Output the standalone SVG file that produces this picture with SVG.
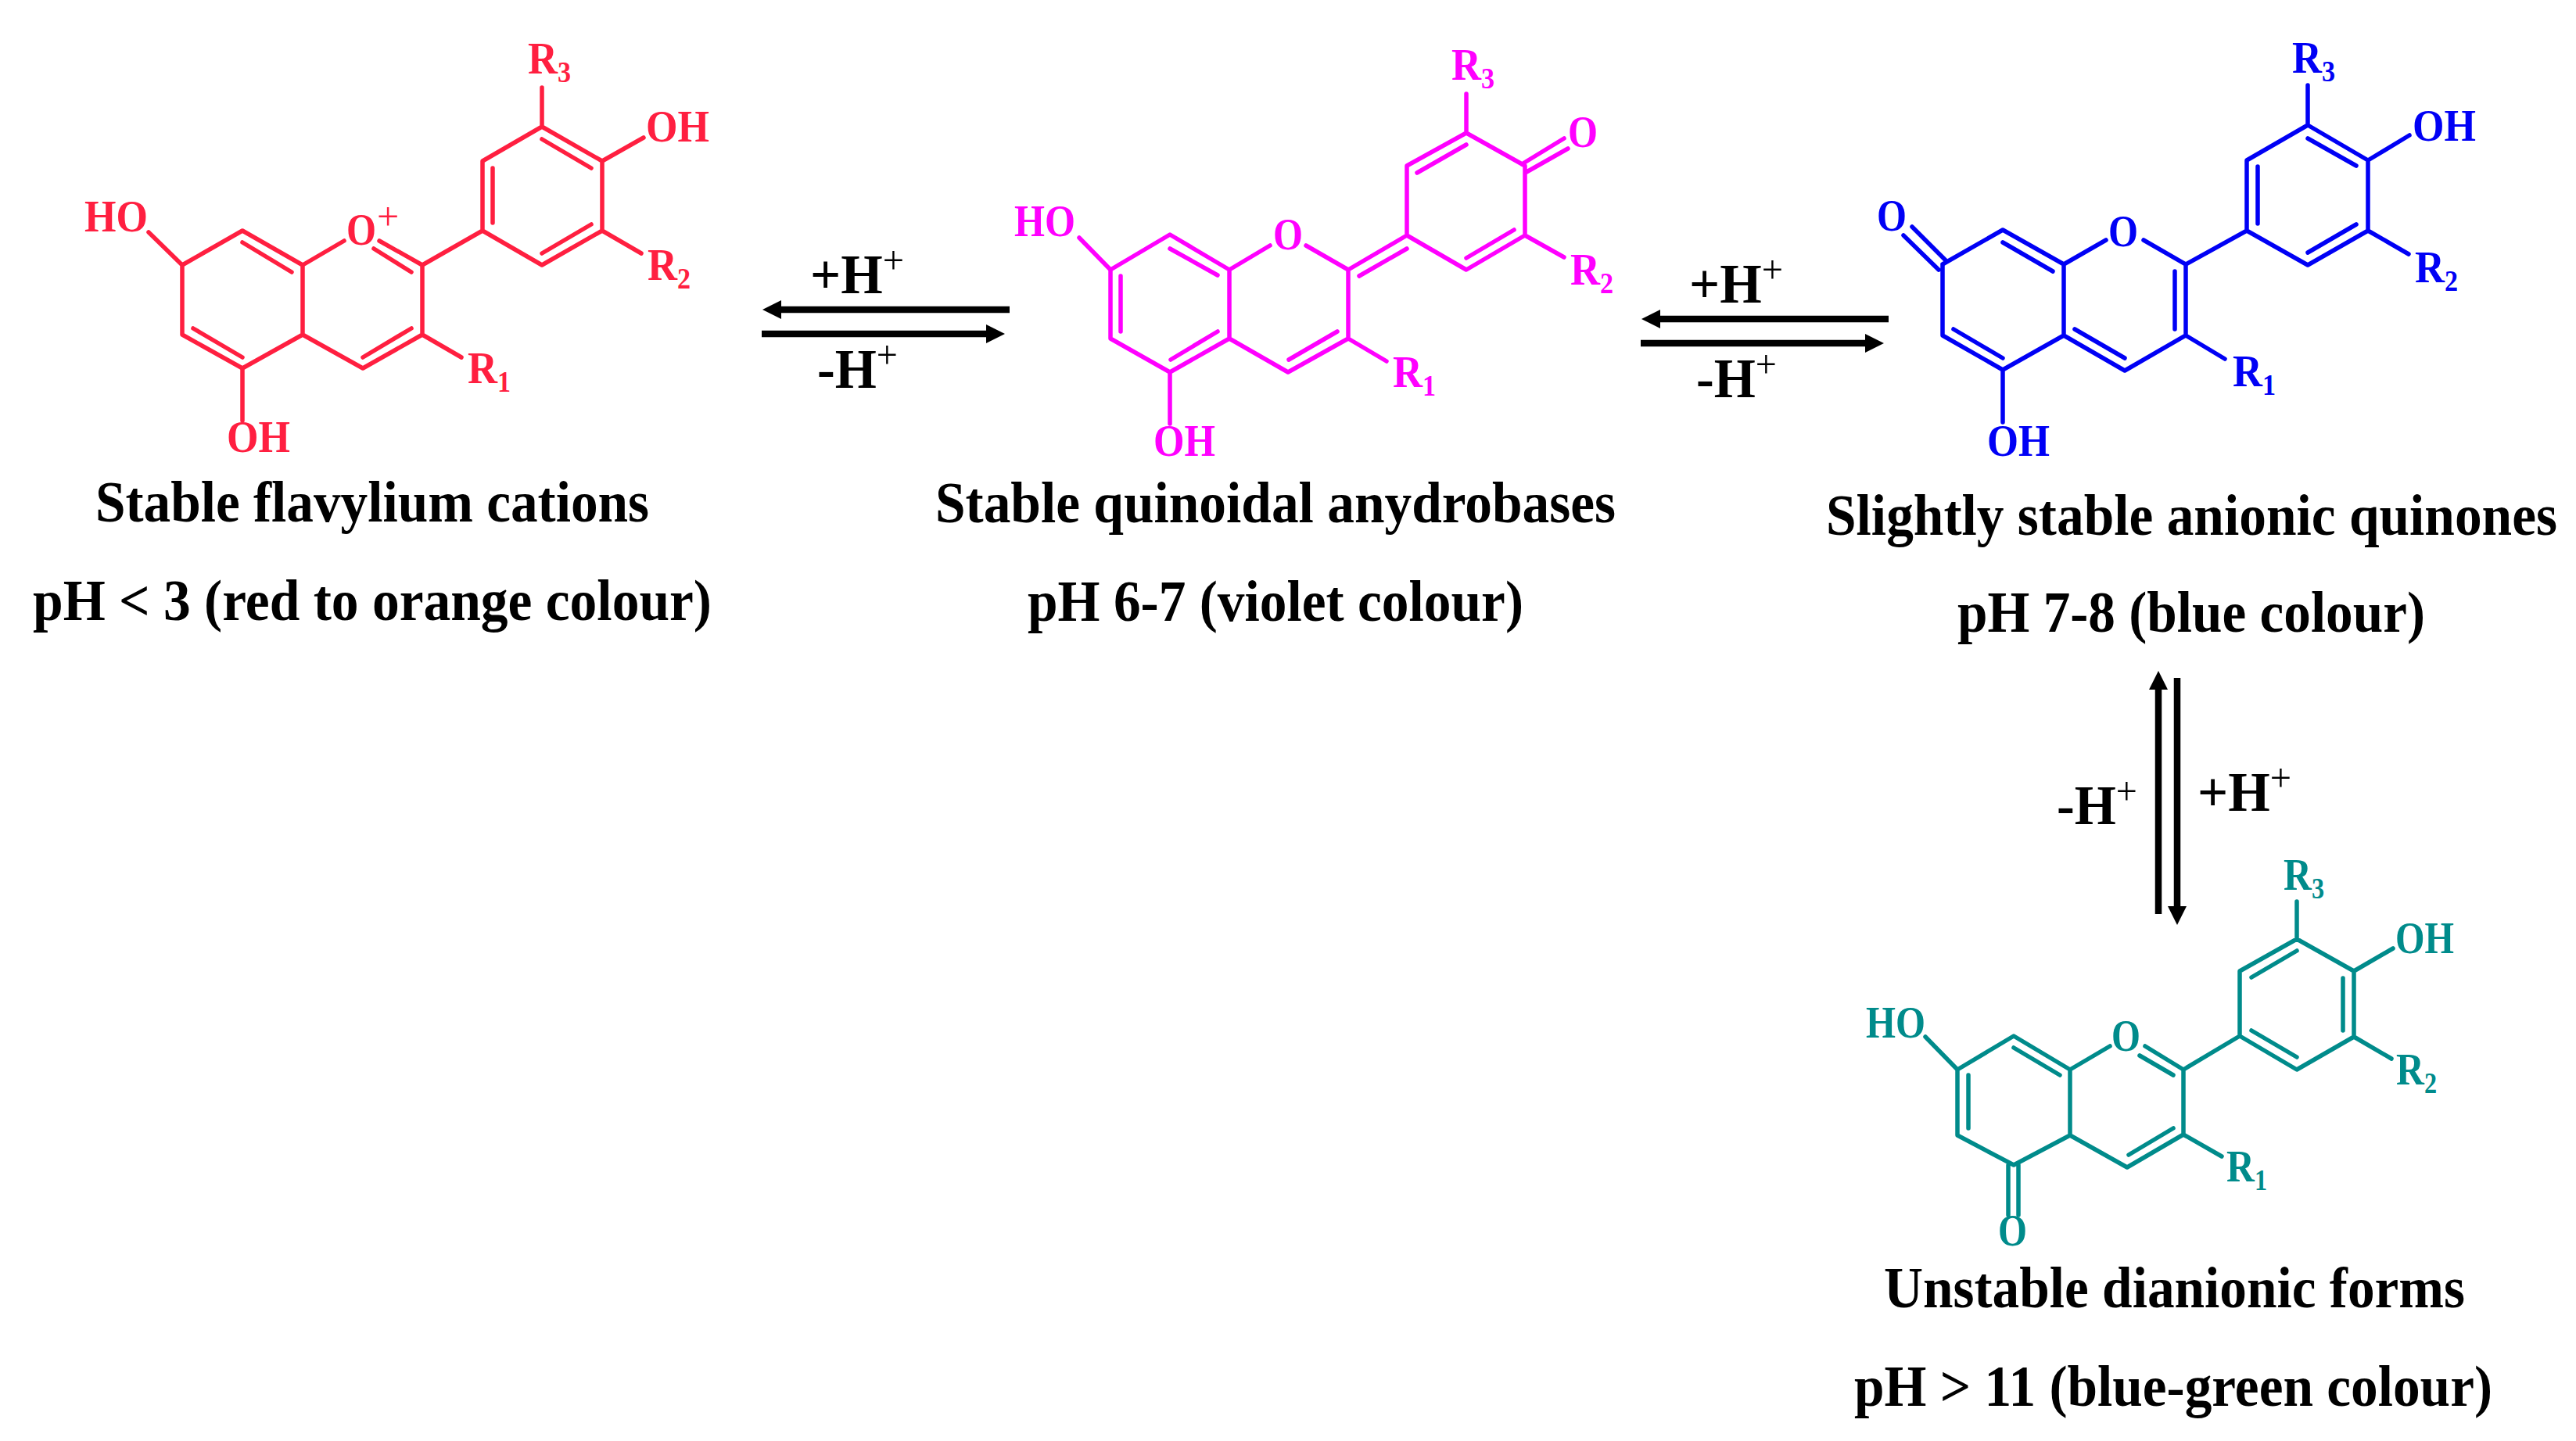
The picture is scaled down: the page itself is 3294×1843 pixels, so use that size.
<svg xmlns="http://www.w3.org/2000/svg" width="3294" height="1843" viewBox="0 0 3294 1843">
<style>
text{font-family:"Liberation Serif","Times New Roman",serif;font-weight:700}
.l{font-size:57px}
.s{font-size:37px}
.c{font-size:75px}
.h{font-size:71px;fill:#000}
.p{font-size:50px;font-weight:400}
.b{fill:none;stroke-width:5.5;stroke-linecap:round;stroke-linejoin:round}
.red .b{stroke:#ff1f40}.red text{fill:#ff1f40}
.mag .b{stroke:#ff00ff}.mag text{fill:#ff00ff}
.blu .b{stroke:#0000f5}.blu text{fill:#0000f5}
.tea .b{stroke:#008b8b}.tea text{fill:#008b8b}
g text.c{fill:#000}
.a{stroke:#000;stroke-width:8.5;fill:none}
</style>
<defs>
<marker id="head" viewBox="0 0 24 24" refX="0" refY="12" markerWidth="24" markerHeight="24" markerUnits="userSpaceOnUse" orient="auto"><path d="M0 0L24 12L0 24z" fill="#000"/></marker>
</defs>
<g id="flavylium-cation" class="red">
<path class="b" d="M190 297L233 339L310 295L387 339L387 428L310 471L233 428L233 339M387 339L440 308M485 308L540 339L540 428L464 471L387 428M540 339L617 295L617 206L693 162L770 206L770 295L693 339L617 295M693 162L693 112M770 206L823 176M770 295L820 324M540 428L590 457M310 471L310 538M310 310L373 348M478 318L526 348M693 178L756 215M630 215L630 285M693 324L756 287M464 457L526 420M247 420L310 457"/>
<text class="l" x="108" y="296" textLength="81" lengthAdjust="spacingAndGlyphs">HO</text>
<text class="l" x="443" y="313" textLength="38" lengthAdjust="spacingAndGlyphs">O</text>
<text class="p" x="482" y="294">+</text>
<text class="l" x="826" y="181" textLength="81" lengthAdjust="spacingAndGlyphs">OH</text>
<text class="l" x="290" y="578" textLength="81" lengthAdjust="spacingAndGlyphs">OH</text>
<text class="l" x="598" y="490" textLength="55" lengthAdjust="spacingAndGlyphs">R<tspan class="s" dy="11">1</tspan></text>
<text class="l" x="828" y="358" textLength="55" lengthAdjust="spacingAndGlyphs">R<tspan class="s" dy="11">2</tspan></text>
<text class="l" x="675" y="94" textLength="55" lengthAdjust="spacingAndGlyphs">R<tspan class="s" dy="11">3</tspan></text>
<text class="c" x="122" y="667" textLength="708" lengthAdjust="spacingAndGlyphs">Stable flavylium cations</text>
<text class="c" x="42" y="793" textLength="868" lengthAdjust="spacingAndGlyphs">pH &lt; 3 (red to orange colour)</text>
</g>
<g id="quinoidal-anhydrobase" class="mag">
<path class="b" d="M1380 304L1420 345L1496 300L1572 345L1572 433L1496 476L1420 433L1420 345M1572 345L1624 314M1670 314L1724 345L1724 433L1647 476L1572 433M1724 345L1799 301L1799 212L1875 170L1950 212L1950 301L1875 345L1799 301M1875 170L1875 120M1950 301L2000 329M1724 433L1773 462M1496 476L1496 542M1496 318L1557 352M1433 353L1433 424M1557 424L1497 460M1710 424L1648 460M1799 318L1738 353M1875 185L1812 221M1875 330L1936 294M1946 210L2000 177M1952 220L2005 190"/>
<text class="l" x="1297" y="302" textLength="78" lengthAdjust="spacingAndGlyphs">HO</text>
<text class="l" x="1628" y="319" textLength="38" lengthAdjust="spacingAndGlyphs">O</text>
<text class="l" x="2005" y="188" textLength="38" lengthAdjust="spacingAndGlyphs">O</text>
<text class="l" x="1475" y="583" textLength="79" lengthAdjust="spacingAndGlyphs">OH</text>
<text class="l" x="1781" y="495" textLength="55" lengthAdjust="spacingAndGlyphs">R<tspan class="s" dy="11">1</tspan></text>
<text class="l" x="2008" y="364" textLength="55" lengthAdjust="spacingAndGlyphs">R<tspan class="s" dy="11">2</tspan></text>
<text class="l" x="1856" y="102" textLength="55" lengthAdjust="spacingAndGlyphs">R<tspan class="s" dy="11">3</tspan></text>
<text class="c" x="1196" y="668" textLength="870" lengthAdjust="spacingAndGlyphs">Stable quinoidal anydrobases</text>
<text class="c" x="1314" y="794" textLength="634" lengthAdjust="spacingAndGlyphs">pH 6-7 (violet colour)</text>
</g>
<g id="anionic-quinone" class="blu">
<path class="b" d="M2484 338L2561 294L2639 338L2639 429L2561 473L2484 429L2484 338M2639 338L2693 307M2741 307L2795 338L2795 429L2717 474L2639 429M2795 338L2873 295L2873 205L2951 160L3028 205L3028 295L2951 339L2873 295M2951 160L2951 109M3028 205L3081 173M3028 295L3080 325M2795 429L2845 459M2561 473L2561 540M2561 310L2625 347M2445 290L2489 334M2434 301L2479 345M2498 421L2561 458M2653 421L2717 458M2781 347L2781 421M2951 177L3013 212M2887 213L2887 286M2951 323L3013 287"/>
<text class="l" x="2400" y="295" textLength="38" lengthAdjust="spacingAndGlyphs">O</text>
<text class="l" x="2696" y="315" textLength="38" lengthAdjust="spacingAndGlyphs">O</text>
<text class="l" x="3085" y="180" textLength="81" lengthAdjust="spacingAndGlyphs">OH</text>
<text class="l" x="2541" y="583" textLength="80" lengthAdjust="spacingAndGlyphs">OH</text>
<text class="l" x="2855" y="494" textLength="55" lengthAdjust="spacingAndGlyphs">R<tspan class="s" dy="11">1</tspan></text>
<text class="l" x="3088" y="361" textLength="55" lengthAdjust="spacingAndGlyphs">R<tspan class="s" dy="11">2</tspan></text>
<text class="l" x="2931" y="93" textLength="55" lengthAdjust="spacingAndGlyphs">R<tspan class="s" dy="11">3</tspan></text>
<text class="c" x="2335" y="684" textLength="935" lengthAdjust="spacingAndGlyphs">Slightly stable anionic quinones</text>
<text class="c" x="2503" y="808" textLength="598" lengthAdjust="spacingAndGlyphs">pH 7-8 (blue colour)</text>
</g>
<g id="dianionic-form" class="tea">
<path class="b" d="M2462 1326L2503 1368L2575 1325L2647 1368L2647 1452L2575 1490L2503 1452L2503 1368M2647 1368L2698 1338M2743 1338L2792 1368L2792 1451L2720 1493L2647 1452M2792 1368L2864 1325L2864 1242L2937 1201L3010 1242L3010 1326L2937 1368L2864 1325M2937 1201L2937 1153M3010 1242L3060 1213M3010 1326L3058 1354M2792 1451L2841 1479M2568 1490L2568 1554M2581 1490L2581 1554M2575 1340L2634 1375M2517 1375L2517 1443M2736 1350L2779 1375M2779 1443L2722 1477M2937 1216L2879 1250M2996 1251L2996 1318M2879 1318L2937 1352"/>
<text class="l" x="2386" y="1327" textLength="76" lengthAdjust="spacingAndGlyphs">HO</text>
<text class="l" x="2700" y="1344" textLength="37" lengthAdjust="spacingAndGlyphs">O</text>
<text class="l" x="2555" y="1593" textLength="37" lengthAdjust="spacingAndGlyphs">O</text>
<text class="l" x="3063" y="1219" textLength="75" lengthAdjust="spacingAndGlyphs">OH</text>
<text class="l" x="2847" y="1511" textLength="52" lengthAdjust="spacingAndGlyphs">R<tspan class="s" dy="11">1</tspan></text>
<text class="l" x="3064" y="1387" textLength="52" lengthAdjust="spacingAndGlyphs">R<tspan class="s" dy="11">2</tspan></text>
<text class="l" x="2920" y="1138" textLength="52" lengthAdjust="spacingAndGlyphs">R<tspan class="s" dy="11">3</tspan></text>
<text class="c" x="2409" y="1672" textLength="743" lengthAdjust="spacingAndGlyphs">Unstable dianionic forms</text>
<text class="c" x="2371" y="1798" textLength="816" lengthAdjust="spacingAndGlyphs">pH &gt; 11 (blue-green colour)</text>
</g>
<g id="connectors">
<path class="a" marker-end="url(#head)" d="M1291 396H999"/>
<path class="a" marker-end="url(#head)" d="M974 427H1261"/>
<path class="a" marker-end="url(#head)" d="M2415 408H2123"/>
<path class="a" marker-end="url(#head)" d="M2098 439H2385"/>
<path class="a" marker-end="url(#head)" d="M2760 1169V882"/>
<path class="a" marker-end="url(#head)" d="M2784 867V1159"/>
</g>
<g id="labels">
<text class="h" x="1036" y="375" textLength="120" lengthAdjust="spacingAndGlyphs">+H<tspan class="p" dy="-25">+</tspan></text>
<text class="h" x="1045" y="496" textLength="103" lengthAdjust="spacingAndGlyphs">-H<tspan class="p" dy="-25">+</tspan></text>
<text class="h" x="2160" y="387" textLength="120" lengthAdjust="spacingAndGlyphs">+H<tspan class="p" dy="-25">+</tspan></text>
<text class="h" x="2169" y="508" textLength="103" lengthAdjust="spacingAndGlyphs">-H<tspan class="p" dy="-25">+</tspan></text>
<text class="h" x="2630" y="1054" textLength="103" lengthAdjust="spacingAndGlyphs">-H<tspan class="p" dy="-25">+</tspan></text>
<text class="h" x="2810" y="1037" textLength="120" lengthAdjust="spacingAndGlyphs">+H<tspan class="p" dy="-25">+</tspan></text>
</g>
</svg>
